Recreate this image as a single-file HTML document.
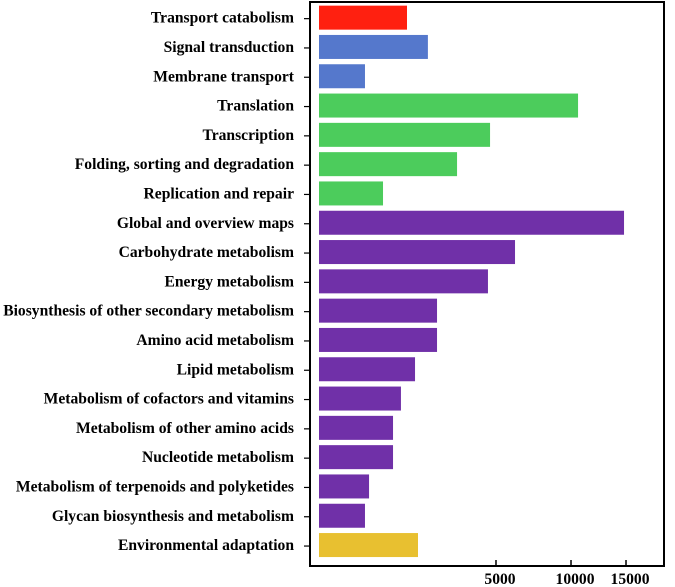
<!DOCTYPE html>
<html><head><meta charset="utf-8"><style>
html,body{margin:0;padding:0;background:#fff;width:675px;height:587px;overflow:hidden}
svg text{font-family:"Liberation Serif",serif;font-weight:bold;font-size:15.6px;fill:#000}
</style></head><body>
<svg id="chart" width="675" height="587"></svg>
<script>
const categories=["Transport catabolism","Signal transduction","Membrane transport","Translation","Transcription","Folding, sorting and degradation","Replication and repair","Global and overview maps","Carbohydrate metabolism","Energy metabolism","Biosynthesis of other secondary metabolism","Amino acid metabolism","Lipid metabolism","Metabolism of cofactors and vitamins","Metabolism of other amino acids","Nucleotide metabolism","Metabolism of terpenoids and polyketides","Glycan biosynthesis and metabolism","Environmental adaptation"];
const values=[8000,9900,4180,23550,15550,12550,5820,27730,17820,15360,10730,10730,8730,7450,6730,6730,4550,4180,9000];
const colors=["#ff2010","#5578cc","#5578cc","#4ccc5c","#4ccc5c","#4ccc5c","#4ccc5c","#7030a8","#7030a8","#7030a8","#7030a8","#7030a8","#7030a8","#7030a8","#7030a8","#7030a8","#7030a8","#7030a8","#e8c030"];
const tickVals=[16090,22910,27910];
const tickLabels=["5000","10000","15000"];
const NS="http://www.w3.org/2000/svg";
const svg=document.getElementById('chart');
const x0=319,k=0.011,top0=3,step=29.3,bh=24,yb=566;
function xs(v){return x0+v*k;}
function yc(i){return top0+step*i+step/2;}
function mk(t,a){const e=document.createElementNS(NS,t);for(const n in a)e.setAttribute(n,a[n]);svg.appendChild(e);return e;}
const frame=mk('rect',{x:310,y:2,width:354,height:yb-2,fill:'none',stroke:'#000','stroke-width':2});


categories.forEach((c,i)=>{
  const r=mk('rect',{x:x0,y:yc(i)-bh/2,width:xs(values[i])-x0,height:bh,fill:colors[i]});
  
  
  const tk=mk('line',{x1:304,x2:310,y1:yc(i)+1,y2:yc(i)+1,stroke:'#000','stroke-width':1.2});
  
  
  const t=mk('text',{x:294,y:yc(i)+5,'text-anchor':'end'});t.textContent=c;
  
  
});
tickVals.forEach((v,i)=>{
  const l=mk('line',{x1:xs(v),x2:xs(v),y1:yb-6,y2:yb,stroke:'#000','stroke-width':1.5});
  
  
  const t=mk('text',{x:xs(v)+4,y:584,'text-anchor':'middle'});t.textContent=tickLabels[i];
  
  
});
</script>
</body></html>
